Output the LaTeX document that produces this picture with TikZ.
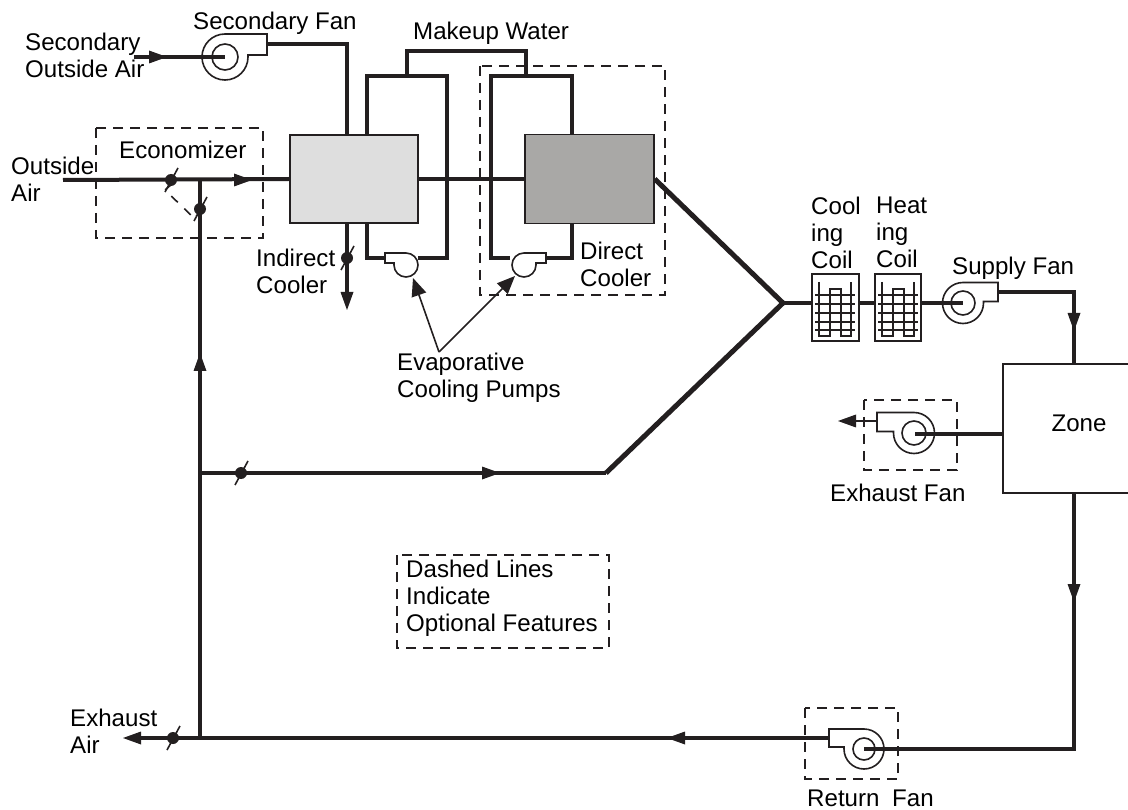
\documentclass[tikz,border=0pt]{standalone}
\usepackage{fontspec}
\setmainfont{Liberation Sans}
\usetikzlibrary{arrows.meta}
\definecolor{ink}{HTML}{231F20}
\definecolor{lightc}{HTML}{DEDEDE}
\definecolor{darkc}{HTML}{A9A8A6}
\tikzset{
  x=1pt,y=-1pt,
  lab/.style={font=\fontsize{24.1}{27}\selectfont,inner sep=0pt,align=left,text=black},
  duct/.style={line width=4pt,draw=ink,line cap=butt},
  heavy/.style={line width=5pt,draw=ink,line join=miter},
  water/.style={line width=3.4pt,draw=ink,line join=miter},
  thin part/.style={line width=1.6pt,draw=ink,fill=white},
  opt/.style={line width=1.5pt,draw=ink,dash pattern=on 10pt off 7pt},
  cooler/.style={line width=1.5pt,draw=ink,minimum width=#1,inner sep=0pt},
  flow/.style={-{Triangle[length=18pt,width=13pt]}},
  call/.style={line width=1.6pt,draw=ink,-{Triangle[length=18pt,width=15pt]}},
  dot/.style={circle,fill=ink,inner sep=0pt,minimum size=12pt},
  coilbox/.style={draw=ink,line width=1.5pt,minimum height=67pt,inner sep=0pt},
}
% fan: centre x, y, outer radius, inner radius, outlet height, outlet length, x-direction
\newcommand{\fan}[7]{%
 \pgfmathsetmacro{\rr}{#3}\pgfmathsetmacro{\kk}{0.5523*#3}\pgfmathsetmacro{\hh}{#5-#3}%
 \begin{scope}[shift={(#1,#2)},xscale=#7]
  \draw[thin part] (#6,-\rr) -- (0,-\rr) .. controls (-\kk,-\rr) and (-\rr,-\kk) .. (-\rr,0)
    .. controls (-\rr,\kk) and (-\kk,\rr) .. (0,\rr)
    .. controls (\kk,\rr) and (\rr,\kk) .. (\rr,0) -- (\rr,\hh) -- (#6,\hh) -- cycle;
  \ifx&#4&\else\draw[line width=1.6pt,draw=ink] (0,0) circle[radius=#4pt];\fi
 \end{scope}}
\newcommand{\damper}[2]{%
 \draw[line width=1.6pt,draw=ink] (#1-6,#2+12) -- (#1+7,#2-12);
 \node[dot] at (#1,#2) {};}
\begin{document}
\begin{tikzpicture}
\useasboundingbox (0,0) rectangle (1128,810);
% named points
\coordinate (secin) at (134,57);
\coordinate (secc) at (225,57);
\coordinate (seco) at (267,44);
\coordinate (seck) at (347,44);
\coordinate (oain) at (63,180);
\coordinate (jn) at (200,180);
\coordinate (jb) at (200,738);
\coordinate (jm) at (200,473);
\coordinate (bend) at (606,473);
\coordinate (mix) at (783,303);
\coordinate (evap) at (439,352);
% coolers
\node[cooler=128pt,fill=lightc,minimum height=88pt] (ind) at (354,179) {};
\node[cooler=129pt,fill=darkc,minimum height=89pt] (dir) at (589.5,179) {};
% zone
\draw[line width=1.6pt,draw=ink,fill=white] (1129,364) -- (1003,364) -- (1003,493) -- (1129,493);
\node[lab] (zone) at (1079,423) {Zone};
\coordinate (zw) at (1003,434);
\coordinate (zt) at (1074,364);
\coordinate (zb) at (1074,493);
% coils
\node[coilbox,minimum width=47pt] (coilA) at (835.5,307.5) {};
\node[coilbox,minimum width=46pt] (coilB) at (898,307.5) {};
\foreach \cx in {835,898}{
  \begin{scope}[shift={(\cx,0)}]
   \draw[line width=1.6pt,draw=ink,line join=miter] (-16,282)--(-16,336)--(-5,336)--(-5,289)--(6,289)--(6,336)--(16,336)--(16,282);
   \foreach \yy in {295,304,313,322,330}{\draw[line width=1.6pt,draw=ink] (-20,\yy)--(20,\yy);}
  \end{scope}}
% main ducts
\draw[duct] (seco) -- (seck) -- (seck|-ind.north);
\draw[duct] (oain) -- (ind.west);
\draw[duct] (jn) -- (jb);
\draw[duct] (ind.east) -- (ind.east-|dir.west);
\draw[duct] (jm) -- (bend);
\draw[heavy] (dir.east) -- (mix) -- (bend);
\draw[duct] (mix) -- (mix-|coilA.west);
\draw[duct] (mix-|coilA.east) -- (mix-|coilB.west);
\draw[duct] (998,292) -| (zt);
\draw[duct] (829,738) -- (jb) -- (130,738);
\draw[duct] (ind.south-|seck) -- (347,295);
% water loops
\draw[water] (367,135) |- (447,76) -- (447,258) -- (418,258);
\draw[water] (367,223) |- (386,258);
\draw[water] (407,76) -- (407,51) -- (526,51) -- (526,76);
\draw[water] (572,134) |- (491,76) -- (491,258) -- (510,258);
\draw[water] (572,223) |- (546,258);
% fans and pumps
\fan{225}{57}{23}{13}{21}{42}{1}
\draw[duct] (secin) -- (secc);
\fan{963}{303}{20.5}{12}{19}{35}{1}
\draw[duct] (mix-|coilB.east) -- (963,303);
\fan{914}{433}{20.5}{12}{19}{37}{-1}
\draw[duct] (zw) -- (915,434);
\fan{864}{749}{20}{11}{18}{35}{-1}
\draw[duct] (zb) |- (864,749);
\fan{406}{265}{12}{}{10}{21}{-1}
\fan{524}{265}{12}{}{10}{22}{1}
% flow arrowheads
\path[flow,draw=ink,fill=ink,line width=0pt] (145,57) -- (167,57);
\path[flow,draw=ink,fill=ink,line width=0pt] (230,180) -- (252,180);
\path[flow,draw=ink,fill=ink,line width=0pt] (200,378) -- (200,353);
\path[flow,draw=ink,fill=ink,line width=0pt] (480,473) -- (500,473);
\path[flow,draw=ink,fill=ink,line width=0pt] (1074,305) -- (1074,331);
\path[flow,draw=ink,fill=ink,line width=0pt] (1074,580) -- (1074,602);
\path[flow,draw=ink,fill=ink,line width=0pt] (690,738) -- (667,738);
\path[flow,draw=ink,fill=ink,line width=0pt] (145,738) -- (123,738);
\path[flow,draw=ink,fill=ink,line width=0pt] (347,285) -- (347,310);
% exhaust-fan discharge
\draw[line width=1.6pt,draw=ink] (877,421) -- (850,421);
\path[flow,draw=ink,fill=ink,line width=0pt] (856,421) -- (838,421);
% dampers
\damper{171}{180}
\damper{200}{209}
\damper{347}{258}
\damper{241}{473}
\damper{173}{738}
\draw[line width=1.6pt,draw=ink,dash pattern=on 9pt off 9pt] (172,184) -- (165,190) -- (195,219) -- (197,215);
% dashed groupings
\draw[opt] (96,128) rectangle (263,238);
\draw[opt] (480,66) rectangle (665,295);
\draw[opt] (864,400) rectangle (957,470);
\draw[opt] (805,708) rectangle (898,779);
\draw[opt] (397,555) rectangle (609,648);
% labels
\node[lab,anchor=west] (l1) at (193,23) {Secondary Fan};
\node[lab,anchor=north west] (l2) at (25,33) {Secondary\\Outside Air};
\node[lab,anchor=west] (l3) at (413,33) {Makeup Water};
\node[lab,anchor=west] (l4) at (119,150) {Economizer};
\node[lab,anchor=north west] (l5) at (11,157) {Outside\\Air};
\node[lab,anchor=north west] (l6) at (256,249) {Indirect\\Cooler};
\node[lab,anchor=north west] (l7) at (580,242) {Direct\\Cooler};
\node[lab,anchor=north west] (l8) at (811,197) {Cool\\ing\\Coil};
\node[lab,anchor=north west] (l9) at (876,197) {Heat\\ing\\Coil};
\node[lab,anchor=west] (l10) at (952,268) {Supply Fan};
\node[lab,anchor=west] (l11) at (830,493) {Exhaust Fan};
\node[lab,anchor=base west] (l12) at (807,806) {Return\hspace{6pt} Fan};
\node[lab,anchor=north west] (l13) at (70,709) {Exhaust\\Air};
\node[lab,anchor=north west] (l14) at (406,560) {Dashed Lines\\Indicate\\Optional Features};
\node[lab,anchor=north west] (l15) at (397,353) {Evaporative\\Cooling Pumps};
% pump call-outs
\draw[call] (evap) -- (413,278);
\draw[call] (evap) -- (515,276);
\end{tikzpicture}
\end{document}
